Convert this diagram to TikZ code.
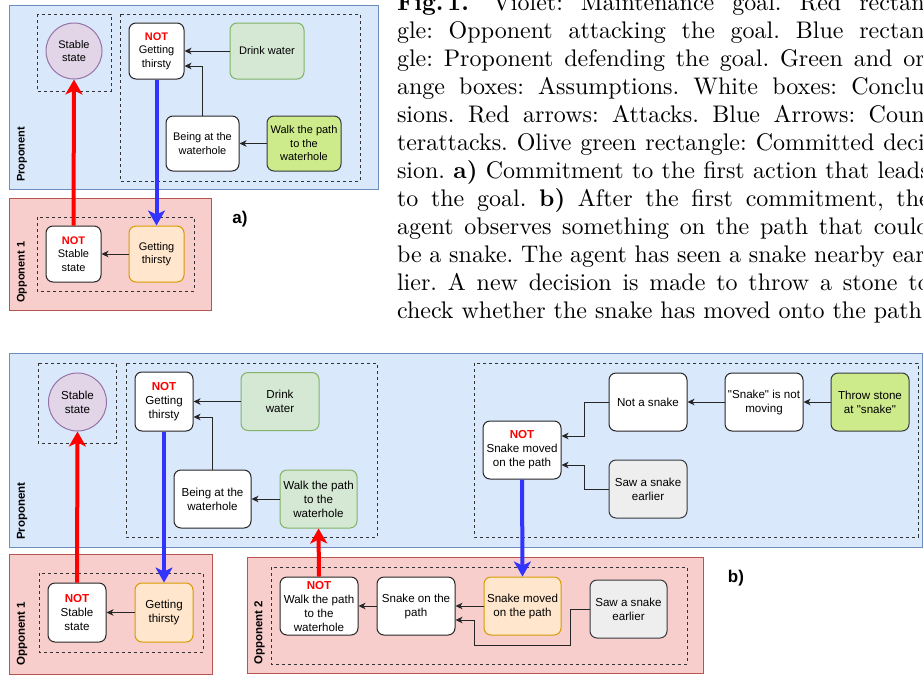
\documentclass[tikz,border=0pt]{standalone}
\usepackage{fontspec}
\newfontfamily\dsans{Liberation Sans}
\usetikzlibrary{arrows.meta}
\definecolor{propfill}{HTML}{DAE8FC}
\definecolor{propdraw}{HTML}{6C8EBF}
\definecolor{oppfill}{HTML}{F8CECC}
\definecolor{oppdraw}{HTML}{B85450}
\definecolor{goalfill}{HTML}{E1D5E7}
\definecolor{goaldraw}{HTML}{9673A6}
\definecolor{grnfill}{HTML}{D5E8D4}
\definecolor{grndraw}{HTML}{82B366}
\definecolor{olvfill}{HTML}{CDEB8B}
\definecolor{olvdraw}{HTML}{36393D}
\definecolor{orgfill}{HTML}{FFE6CC}
\definecolor{orgdraw}{HTML}{D79B00}
\definecolor{gryfill}{HTML}{EEEEEE}
\definecolor{grydraw}{HTML}{36393D}
\definecolor{atkred}{HTML}{FF0000}
\definecolor{ctrblue}{HTML}{3333FF}
\newcommand{\notlbl}{{\color{atkred}\bfseries NOT}}
\newcommand{\hy}{-\kern-1.2pt}
\tikzset{
  prop/.style={fill=propfill, draw=propdraw, line width=1pt},
  opp/.style={fill=oppfill, draw=oppdraw, line width=1pt},
  grp/.style={draw=black!80, line width=0.8pt, dash pattern=on 3pt off 3pt},
  basebox/.style={rounded corners=7pt, line width=1pt, align=center, inner sep=1pt, text=black},
  concl/.style={basebox, fill=white, draw=black!85},
  assum/.style={basebox, fill=grnfill, draw=grndraw},
  commit/.style={basebox, fill=olvfill, draw=olvdraw},
  orng/.style={basebox, fill=orgfill, draw=orgdraw},
  gryb/.style={basebox, fill=gryfill, draw=grydraw},
  circ/.style={circle, fill=goalfill, draw=goaldraw, line width=1pt, inner sep=0pt, align=center},
  wh/.style 2 args={minimum width=#1pt, minimum height=#2pt},
  fA/.style={font=\dsans\fontsize{11}{13.5}\selectfont},
  fB/.style={font=\dsans\fontsize{11.6}{14}\selectfont},
  side/.style={font=\dsans\bfseries\fontsize{11}{13}\selectfont, rotate=90, anchor=west, inner sep=0pt},
  sideB/.style={side, font=\dsans\bfseries\fontsize{11.5}{13}\selectfont},
  conn/.style={draw=black!85, line width=0.9pt, -{Stealth[length=7pt,width=6.5pt,inset=2pt]}},
  attack/.style={draw=atkred, line width=4pt, -{Stealth[length=15pt,width=17pt,inset=4pt]}},
  counter/.style={draw=ctrblue, line width=4pt, -{Stealth[length=15pt,width=17pt,inset=4pt]}},
  partlbl/.style={font=\dsans\bfseries\fontsize{17}{20}\selectfont, inner sep=0pt}
}
\begin{document}
\begin{tikzpicture}[x=1pt,y=-1pt]
\useasboundingbox (0,0) rectangle (923,675);
% ---------- caption ----------
\begin{scope}
\clip (0,0) rectangle (923,675);
\node[anchor=base west, inner sep=0pt, outer sep=0pt, scale=2.4] (caption) at (397,10) {\vtop{\fontsize{10}{11.667}\selectfont\frenchspacing\hsize=222pt
\hbox to\hsize{\textbf{Fig.\,1.}\hskip 0.5em plus 0.2em Violet: Maintenance goal. Red rectan\hy}
\hbox to\hsize{gle: Opponent attacking the goal. Blue rectan\hy}
\hbox to\hsize{gle: Proponent defending the goal. Green and or\hy}
\hbox to\hsize{ange boxes: Assumptions. White boxes: Conclu\hy}
\hbox to\hsize{sions. Red arrows: Attacks. Blue Arrows: Coun\hy}
\hbox to\hsize{terattacks. Olive green rectangle: Committed deci\hy}
\hbox to\hsize{sion. \textbf{a)} Commitment to the first action that leads}
\hbox to\hsize{to the goal. \textbf{b)} After the first commitment, the}
\hbox to\hsize{agent observes something on the path that could}
\hbox to\hsize{be a snake. The agent has seen a snake nearby ear\hy}
\hbox to\hsize{lier. A new decision is made to throw a stone to}
\hbox{check whether the snake has moved onto the path.}}};
\end{scope}
% ---------- part a ----------
\draw[prop] (9,5) rectangle (378,189);
\draw[opp] (9,198) rectangle (211,310);
\draw[grp] (37,14) rectangle (111,91);
\draw[grp] (120,14) rectangle (360,181);
\draw[grp] (37,217) rectangle (194,291);
\node[side] (lpropA) at (22,182) {Proponent};
\node[side] (loppA) at (22,303) {Opponent 1};
\node[circ, minimum size=56pt, fA] (circA) at (74,51) {Stable\\state};
\node[concl, wh={55}{56}, fA] (ngtA) at (156.5,51) {\notlbl\\Getting\\thirsty};
\node[assum, wh={74}{56}, fA] (drinkA) at (267,51) {Drink water};
\node[concl, wh={73}{55}, fA] (beingA) at (202.5,143.5) {Being at the\\waterhole};
\node[commit, wh={74}{55}, fA] (walkA) at (304,143.5) {Walk the path\\to the\\waterhole};
\node[concl, wh={55}{56}, fA] (nssA) at (73.5,254) {\notlbl\\Stable\\state};
\node[orng, wh={55}{56}, fA] (gtA) at (156.5,254) {Getting\\thirsty};
\draw[conn] (drinkA.west) -- (ngtA.east);
\draw[conn] (beingA.north) |- ([yshift=-15pt]ngtA.east);
\draw[conn] (walkA.west) -- (beingA.east);
\draw[conn] (gtA.west) -- (nssA.east);
\draw[attack] (nssA.north) -- (circA.south);
\draw[counter] (ngtA.south) -- (gtA.north);
\node[partlbl] (la) at (240,219) {a)};
% ---------- part b ----------
\draw[prop] (9,353) rectangle (922,547);
\draw[opp] (9,554) rectangle (212,674);
\draw[opp] (247,557) rectangle (703,673);
\draw[grp] (38,363) rectangle (116,443);
\draw[grp] (126,363) rectangle (377,537);
\draw[grp] (474,363) rectangle (918,537);
\draw[grp] (39,573) rectangle (203,652);
\draw[grp] (271,567) rectangle (687,664);
\node[sideB] (lpropB) at (22,540) {Proponent};
\node[sideB] (lopp1B) at (22,666) {Opponent 1};
\node[sideB] (lopp2B) at (259.5,665) {Opponent 2};
\node[circ, minimum size=58pt, fB] (circB) at (77.5,402) {Stable\\state};
\node[concl, wh={58}{59}, fB] (ngtB) at (164,401.5) {\notlbl\\Getting\\thirsty};
\node[assum, wh={78}{58}, fB] (drinkB) at (280,401.5) {Drink\\water};
\node[concl, wh={77}{58}, fB] (beingB) at (212.5,499) {Being at the\\waterhole};
\node[assum, wh={77}{58}, fB] (walkB) at (318.5,499) {Walk the path\\to the\\waterhole};
\node[concl, wh={78}{58}, fB] (nsmB) at (522,450) {\notlbl\\Snake moved\\on the path};
\node[concl, wh={78}{58}, fB] (notsnake) at (648,402) {Not a snake};
\node[concl, wh={78}{58}, fB] (notmoving) at (764,402) {"Snake" is not\\moving};
\node[commit, wh={78}{58}, fB] (throw) at (870,402) {Throw stone\\at "snake"};
\node[gryb, wh={78}{58}, fB] (sawB) at (648,489) {Saw a snake\\earlier};
\node[concl, wh={58}{59}, fB] (nssB) at (77,612.5) {\notlbl\\Stable\\state};
\node[orng, wh={58}{59}, fB] (gtB) at (164,612.5) {Getting\\thirsty};
\node[concl, wh={78}{58}, fB] (nwpB) at (319,606) {\notlbl\\Walk the path\\to the\\waterhole};
\node[concl, wh={78}{58}, fB] (sopB) at (416,606) {Snake on the\\path};
\node[orng, wh={77}{58}, fB] (smpB) at (522.5,606) {Snake moved\\on the path};
\node[gryb, wh={77}{58}, fB] (saw2) at (628.5,609) {Saw a snake\\earlier};
\draw[conn] (drinkB.west) -- (ngtB.east);
\draw[conn] (beingB.north) |- ([yshift=-15.5pt]ngtB.east);
\draw[conn] (walkB.west) -- (beingB.east);
\draw[conn] (throw.west) -- (notmoving.east);
\draw[conn] (notmoving.west) -- (notsnake.east);
\draw[conn] (notsnake.west) -- ++(-24,0) |- ([yshift=14pt]nsmB.east);
\draw[conn] (sawB.west) -- ++(-24,0) |- ([yshift=-15pt]nsmB.east);
\draw[conn] (gtB.west) -- (nssB.east);
\draw[conn] (smpB.west) -- (sopB.east);
\draw[conn] (sopB.west) -- (nwpB.east);
\draw[conn] (saw2.west) -- ++(-19,0) -- ++(0,36) -- ++(-96,0) |- ([yshift=-14pt]sopB.east);
\draw[attack] (nssB.north) -- (circB.south);
\draw[counter] (ngtB.south) -- (gtB.north);
\draw[counter] (nsmB.south) -- (smpB.north);
\draw[attack] (nwpB.north) -- (walkB.south);
\node[partlbl] (lb) at (736,578) {b)};
\end{tikzpicture}
\end{document}
